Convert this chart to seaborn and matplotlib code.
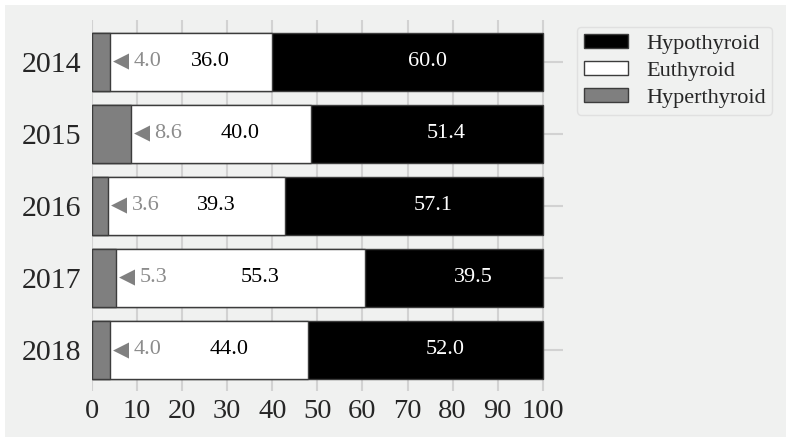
import matplotlib
matplotlib.use("Agg")
import matplotlib.pyplot as plt
import matplotlib.patches as mpatches
import seaborn as sns
import pandas as pd
import numpy as np

years = ["2014", "2015", "2016", "2017", "2018"]
hyper = [4.0, 8.6, 3.6, 5.3, 4.0]
euthy = [36.0, 40.0, 39.3, 55.3, 44.0]
hypo = [60.0, 51.4, 57.1, 39.5, 52.0]
xticks = [0, 10, 20, 30, 40, 50, 60, 70, 80, 90, 100]

sns.set_theme(style="white")
plt.rcParams['font.family'] = ['Liberation Serif', 'DejaVu Sans']

df = pd.DataFrame({"year": years, "hyper": hyper, "euthy": euthy, "hypo": hypo})
df["c1"] = df["hyper"]
df["c2"] = df["hyper"] + df["euthy"]
df["c3"] = df["c2"] + df["hypo"]

fig = plt.figure(figsize=(7.91, 4.44), dpi=100, facecolor="white")
bg = mpatches.Rectangle((5 / 791, 7 / 444), 781 / 791, 432 / 444, transform=fig.transFigure,
                        facecolor="#f0f1f0", edgecolor="none", zorder=-10)
fig.patches.append(bg)
ax = fig.add_axes([92 / 791, 1 - 391 / 444, 471 / 791, 371 / 444])
ax.set_facecolor("none")

edge = "#3c3c3c"
colors = {"c3": "black", "c2": "white", "c1": "#7f7f7f"}
names = {"c3": "Hypothyroid", "c2": "Euthyroid", "c1": "Hyperthyroid"}
for col in ["c3", "c2", "c1"]:
    sns.barplot(data=df, x=col, y="year", order=years, orient="h", color=colors[col],
                saturation=1, width=0.8, edgecolor=edge, linewidth=1, ax=ax, zorder=3)

for i in range(len(years)):
    ax.text(hyper[i] + 0.7, i, "\u25c0", color="#808080", fontsize=15,
            family=["DejaVu Sans"], ha="left", va="center", zorder=5)
    ax.text(hyper[i] + 5.2, i, f"{hyper[i]:.1f}", color="#8c8c8c", fontsize=16,
            ha="left", va="center", zorder=5)
    ax.text(hyper[i] + euthy[i] / 2, i, f"{euthy[i]:.1f}", color="black", fontsize=16,
            ha="left", va="center", zorder=5)
    ax.text(hyper[i] + euthy[i] + hypo[i] / 2, i, f"{hypo[i]:.1f}", color="white", fontsize=16,
            ha="left", va="center", zorder=5)

ax.set_xlim(0, 104.5)
ax.set_ylim(4.57, -0.58)
ax.set_xticks(xticks)
ax.set_xticklabels([str(t) for t in xticks], fontsize=20.5)
ax.tick_params(axis="x", length=0, pad=6)
ax.tick_params(axis="y", length=0, pad=8, labelsize=21.5)
ax.set_xlabel("")
ax.set_ylabel("")
ax.grid(True, axis="both", color="#d2d2d2", linewidth=1.5, zorder=0)
ax.set_axisbelow(True)
for s in ax.spines.values():
    s.set_visible(False)

handles = [mpatches.Patch(facecolor=colors[c], edgecolor=edge, linewidth=1, label=names[c])
           for c in ["c3", "c2", "c1"]]
leg = fig.legend(handles=handles, loc="upper left", bbox_to_anchor=(577 / 791, 1 - 27 / 444),
                 prop={"family": "Liberation Serif", "size": 16}, frameon=True,
                 handlelength=2.0, handleheight=0.6, borderpad=0.3, labelspacing=0.33,
                 handletextpad=0.8, borderaxespad=0)
leg.get_frame().set_facecolor("#f0f1f0")
leg.get_frame().set_edgecolor("#dcdcdc")

fig.savefig("out.png", dpi=100, facecolor="white")
